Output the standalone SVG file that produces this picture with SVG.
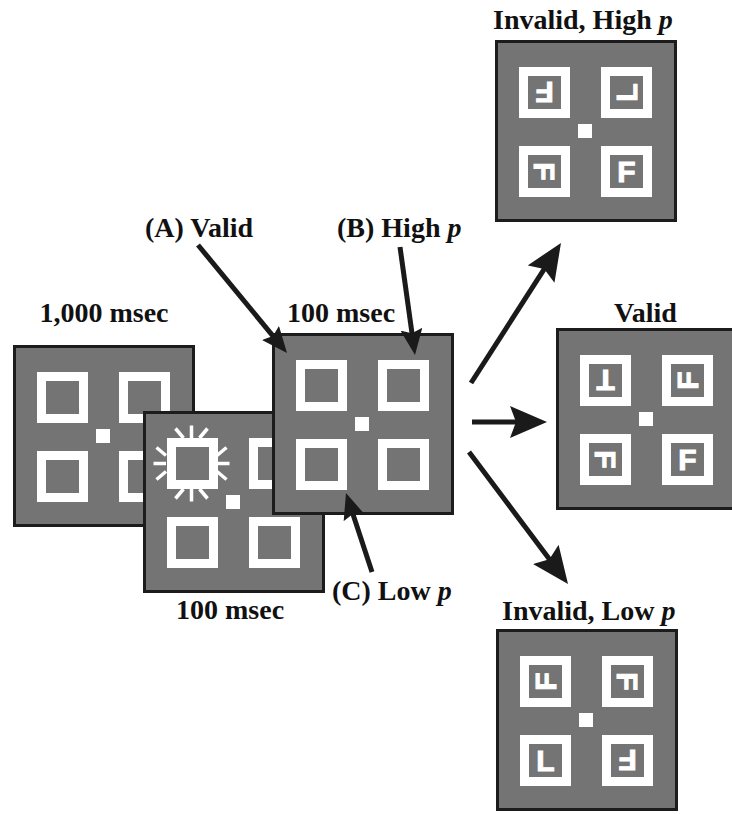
<svg xmlns="http://www.w3.org/2000/svg" width="732" height="814" viewBox="0 0 732 814">
<style>
.bg{fill:#747474;stroke:#1c1c1c;stroke-width:3}
.sq{fill:none;stroke:#ffffff;stroke-width:9}
.fx{fill:#ffffff}
.sp{stroke:#ffffff;stroke-width:3.5;stroke-linecap:butt}
.lbl{font-family:"Liberation Serif","Times New Roman",serif;font-weight:bold;font-size:28px;fill:#111111}
.it{font-style:italic}
.let{font-family:"Liberation Sans",Arial,sans-serif;font-weight:bold;font-size:30px;fill:#ffffff;stroke:#ffffff;stroke-width:1;text-anchor:middle}
.arw{stroke:#1a1a1a;stroke-width:5;fill:none}
.big{marker-end:url(#hb)}
.sml{marker-end:url(#hs)}
</style>
<defs>
<marker id="hb" markerUnits="userSpaceOnUse" markerWidth="37" markerHeight="32" refX="8" refY="16" orient="auto" viewBox="0 0 37 32">
<path d="M0,0 L37,16 L0,32 L6,16 z" fill="#1a1a1a"/>
</marker>
<marker id="hs" markerUnits="userSpaceOnUse" markerWidth="26" markerHeight="22" refX="6" refY="11" orient="auto" viewBox="0 0 26 22">
<path d="M0,0 L26,11 L0,22 L4,11 z" fill="#1a1a1a"/>
</marker>
<g id="frame">
<rect class="bg" x="1.5" y="1.5" width="179" height="179"/>
<rect class="sq" x="28.5" y="31.5" width="42" height="42"/>
<rect class="sq" x="110.5" y="31.5" width="42" height="42"/>
<rect class="sq" x="28.5" y="110.5" width="42" height="42"/>
<rect class="sq" x="110.5" y="110.5" width="42" height="42"/>
<rect class="fx" x="83" y="84" width="14" height="14"/>
</g>
</defs>

<g id="panel-fixation">
<use href="#frame" x="13" y="345"/>
</g>

<g id="panel-cue">
<use href="#frame" x="143" y="411"/>
<g transform="translate(191.5,463.5)">
<line class="sp" x1="0" y1="-25.5" x2="0" y2="-38"/>
<line class="sp" x1="-8" y1="-25.5" x2="-16" y2="-35"/>
<line class="sp" x1="8" y1="-25.5" x2="16" y2="-35"/>
<line class="sp" x1="0" y1="25.5" x2="0" y2="38"/>
<line class="sp" x1="-8" y1="25.5" x2="-16" y2="35"/>
<line class="sp" x1="8" y1="25.5" x2="16" y2="35"/>
<line class="sp" x1="-25.5" y1="0" x2="-38" y2="0"/>
<line class="sp" x1="-25.5" y1="-8" x2="-35" y2="-16"/>
<line class="sp" x1="-25.5" y1="8" x2="-35" y2="16"/>
<line class="sp" x1="25.5" y1="0" x2="38" y2="0"/>
<line class="sp" x1="25.5" y1="-8" x2="35" y2="-16"/>
<line class="sp" x1="25.5" y1="8" x2="35" y2="16"/>
</g>
</g>

<g id="panel-isi">
<use href="#frame" x="272" y="333"/>
</g>

<g id="panel-invalid-high">
<use href="#frame" x="495" y="40"/>
<text class="let" x="544.5" y="103.2" transform="rotate(180 544.5 92.5)">F</text>
<text class="let" x="626.5" y="103.2" transform="rotate(-90 626.5 92.5)">L</text>
<text class="let" x="544.5" y="182.2" transform="rotate(90 544.5 171.5)">F</text>
<text class="let" x="626.5" y="182.2">F</text>
</g>

<g id="panel-valid">
<use href="#frame" x="556" y="328"/>
<text class="let" x="605.5" y="391.2" transform="rotate(180 605.5 380.5)">T</text>
<text class="let" x="687.5" y="391.2" transform="rotate(-90 687.5 380.5)">F</text>
<text class="let" x="605.5" y="470.2" transform="rotate(90 605.5 459.5)">F</text>
<text class="let" x="687.5" y="470.2">F</text>
</g>

<g id="panel-invalid-low">
<use href="#frame" x="496" y="629"/>
<text class="let" x="545.5" y="692.2" transform="rotate(-90 545.5 681.5)">F</text>
<text class="let" x="627.5" y="692.2" transform="rotate(90 627.5 681.5)">F</text>
<text class="let" x="545.5" y="771.2">L</text>
<text class="let" x="627.5" y="771.2" transform="rotate(180 627.5 760.5)">F</text>
</g>

<g id="connectors">
<line class="arw sml" x1="198" y1="245" x2="274.3" y2="337.6"/>
<line class="arw sml" x1="400" y1="247" x2="412.25" y2="335.2"/>
<line class="arw sml" x1="372" y1="572" x2="352.25" y2="512"/>
<line class="arw big" x1="471" y1="383" x2="545.3" y2="267.4"/>
<line class="arw big" x1="472" y1="422" x2="518" y2="422"/>
<line class="arw big" x1="469" y1="452" x2="550.6" y2="560.8"/>
</g>

<g id="labels">
<text class="lbl" x="493" y="29">Invalid, High <tspan class="it">p</tspan></text>
<text class="lbl" x="145" y="237">(A) Valid</text>
<text class="lbl" x="337" y="237">(B) High <tspan class="it">p</tspan></text>
<text class="lbl" x="104" y="322" text-anchor="middle">1,000 msec</text>
<text class="lbl" x="287" y="322">100 msec</text>
<text class="lbl" x="614" y="322">Valid</text>
<text class="lbl" x="332" y="600">(C) Low <tspan class="it">p</tspan></text>
<text class="lbl" x="176" y="619">100 msec</text>
<text class="lbl" x="502" y="620">Invalid, Low <tspan class="it">p</tspan></text>
</g>
</svg>
